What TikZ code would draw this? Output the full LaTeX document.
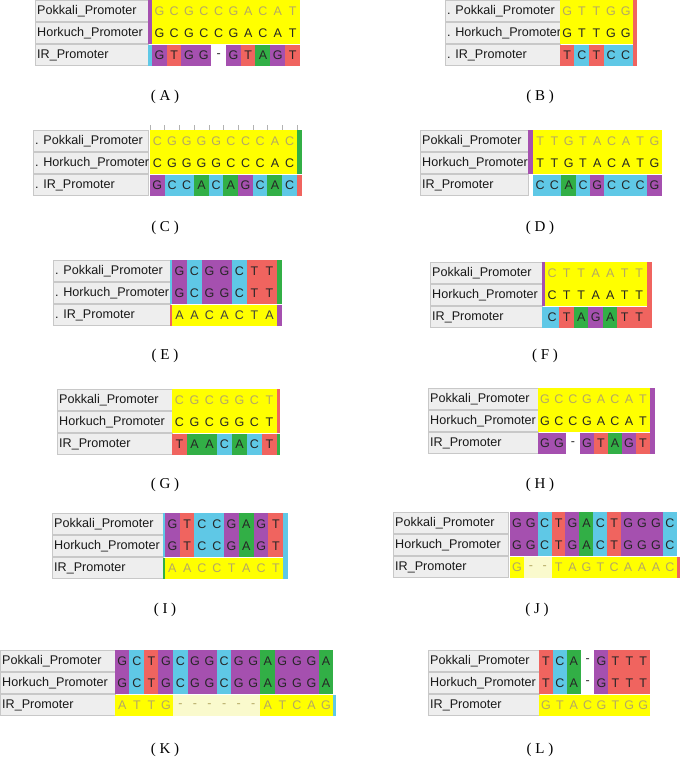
\documentclass[tikz,border=0pt]{standalone}
\usepackage{fontspec}
\setmainfont{Liberation Serif}
\newfontfamily\sansf{Liberation Sans}
\definecolor{cY}{RGB}{255,255,0}
\definecolor{cP}{RGB}{165,80,175}
\definecolor{cB}{RGB}{95,200,230}
\definecolor{cR}{RGB}{240,100,95}
\definecolor{cN}{RGB}{50,175,70}
\definecolor{cW}{RGB}{255,255,255}
\definecolor{cL}{RGB}{250,250,205}
\definecolor{fade}{RGB}{180,168,100}
\definecolor{labfill}{RGB}{238,238,238}
\definecolor{labline}{RGB}{200,200,200}
\tikzset{
  seqcell/.style={inner sep=0pt, outer sep=0pt, font=\sansf\fontsize{12.5}{12.5}\selectfont, anchor=center},
  labbox/.style={fill=labfill, draw=labline, line width=0.5pt, anchor=north west, inner sep=0pt, outer sep=0pt},
  labtext/.style={font=\sansf\fontsize{12.6}{14}\selectfont, text=black!90, anchor=west, inner sep=0pt},
  captext/.style={font=\fontsize{15}{15}\selectfont, inner sep=0pt}
}
\newcommand\seqrow[7]{%
  \foreach \l/\f [count=\i] in {#7}{%
    \node[seqcell, fill=\f, text=#6, minimum width=#4pt+0.4pt, minimum height=#5pt] (#1\i) at ({#2+(\i-0.5)*#4},{#3+#5/2}) {\l};
  }}
\newcommand\labrow[6]{%
  \node[labbox, minimum width=#4pt, minimum height=#5pt] (#1) at ({#2},{#3}) {};
  \node[labtext] (#1t) at ([xshift=2pt]#1.west) {#6};}
\def\pre{}
\def\bcol{black!85}
\newcommand\panel[9]{%
  \labrow{#1-l1}{#2}{#6}{#3}{21.5}{\pre Pokkali\_Promoter}
  \labrow{#1-l2}{#2}{#6+22}{#3}{21.5}{\pre Horkuch\_Promoter}
  \labrow{#1-l3}{#2}{#6+44.5}{#3}{21}{\pre IR\_Promoter}
  \seqrow{#1-a}{#4}{#6}{#5}{22}{#8}{#7}
  \seqrow{#1-b}{#4}{#6+22}{#5}{22}{black!85}{#7}
  \seqrow{#1-c}{#4}{#6+45}{#5}{20.5}{\bcol}{#9}
}
\begin{document}
\begin{tikzpicture}[x=1pt,y=-1pt]
\fill[white] (0,0) rectangle (685,766);
\useasboundingbox (0,0) rectangle (685,766);

% ---------- A ----------
\def\pre{}\def\bcol{black!85}
\panel{A}{35}{113}{152}{14.8}{0}{G/cY,C/cY,G/cY,C/cY,C/cY,G/cY,A/cY,C/cY,A/cY,T/cY}{fade}{G/cP,T/cR,G/cP,G/cP,-/cW,G/cP,T/cR,A/cN,G/cP,T/cR}
\fill[cP] (148,0) rectangle (152,44);
\fill[cB] (148,45) rectangle (152,65.5);
\node[captext] (capA) at (165,97) {( A )};

% ---------- B ----------
\def\pre{. }
\panel{B}{445}{115}{560}{14.6}{0}{G/cY,T/cY,T/cY,G/cY,G/cY}{fade}{T/cR,C/cB,T/cR,C/cB,C/cB}
\fill[cR] (633,0) rectangle (637,65.5);
\node[captext] (capB) at (540,97) {( B )};

% ---------- C ----------
\def\pre{. }
\panel{C}{33}{115}{150}{14.7}{130}{C/cY,G/cY,G/cY,G/cY,G/cY,C/cY,C/cY,C/cY,A/cY,C/cY}{fade}{G/cP,C/cB,C/cB,A/cN,C/cB,A/cN,G/cP,C/cB,A/cN,C/cB}
\fill[cN] (297,130) rectangle (302,174);
\fill[cR] (297,175) rectangle (302,195.5);
\foreach \k in {0,...,10}{\draw[gray!60, line width=0.5pt] ({150+\k*14.7},125) -- ({150+\k*14.7},130);}
\node[captext] (capC) at (165,228) {( C )};

% ---------- D ----------
\def\pre{}
\panel{D}{420}{108}{533}{14.3}{130}{T/cY,T/cY,G/cY,T/cY,A/cY,C/cY,A/cY,T/cY,G/cY}{fade}{C/cB,C/cB,A/cN,C/cB,G/cP,C/cB,C/cB,C/cB,G/cP}
\fill[cP] (528,130) rectangle (533,174);
\node[captext] (capD) at (540,228) {( D )};

% ---------- E ----------
\def\pre{. }\def\bcol{black!75}
\panel{E}{53}{117}{172}{15}{260}{G/cP,C/cB,G/cP,G/cP,C/cB,T/cR,T/cR}{black!85}{A/cY,A/cY,C/cY,A/cY,C/cY,T/cY,A/cY}
\fill[cB] (170,260) rectangle (172,304);
\fill[cR] (170,305) rectangle (172,325.5);
\fill[cN] (277,260) rectangle (282,304);
\fill[cP] (277,305) rectangle (282,325.5);
\node[captext] (capE) at (165,356) {( E )};

% ---------- F ----------
\def\pre{}\def\bcol{black!85}
\panel{F}{430}{112}{545}{14.5}{262}{C/cY,T/cY,T/cY,A/cY,A/cY,T/cY,T/cY}{fade}{C/cB,T/cR,A/cN,G/cP,A/cN,T/cR,T/cR}
\fill[cP] (542,262) rectangle (545,306);
\fill[cB] (542,307) rectangle (545,327.5);
\fill[cR] (646.5,262) rectangle (652,327.5);
\node[captext] (capF) at (545,356) {( F )};

% ---------- G ----------
\panel{G}{57}{115}{172}{15}{389}{C/cY,G/cY,C/cY,G/cY,G/cY,C/cY,T/cY}{fade}{T/cR,A/cN,A/cN,C/cB,A/cN,C/cB,T/cR}
\fill[cR] (277,389) rectangle (280,433);
\fill[cN] (277,434) rectangle (280,454.5);
\node[captext] (capG) at (165,485) {( G )};

% ---------- H ----------
\panel{H}{428}{110}{538}{14}{388}{G/cY,C/cY,C/cY,G/cY,A/cY,C/cY,A/cY,T/cY}{fade}{G/cP,G/cP,-/cW,G/cP,T/cR,A/cN,G/cP,T/cR}
\fill[cP] (650,388) rectangle (655,453.5);
\node[captext] (capH) at (540,485) {( H )};

% ---------- I ----------
\def\bcol{fade}
\panel{I}{52}{111}{165}{14.8}{513}{G/cP,T/cR,C/cB,C/cB,G/cP,A/cN,G/cP,T/cR}{black!85}{A/cY,A/cY,C/cY,C/cY,T/cY,A/cY,C/cY,T/cY}
\fill[cB] (163,513) rectangle (165,557);
\fill[cN] (163,558) rectangle (165,578.5);
\fill[cB] (283.4,513) rectangle (288,578.5);
\node[captext] (capI) at (165,610) {( I )};

% ---------- J ----------
\panel{J}{393}{115}{510}{13.9}{512}{G/cP,G/cP,C/cB,T/cR,G/cP,A/cN,C/cB,T/cR,G/cP,G/cP,G/cP,C/cB}{black!85}{G/cY,-/cL,-/cL,T/cY,A/cY,G/cY,T/cY,C/cY,A/cY,A/cY,A/cY,C/cY}
\fill[cR] (676.8,557) rectangle (680,577.5);
\node[captext] (capJ) at (537,610) {( J )};

% ---------- K ----------
\panel{K}{0}{115}{115}{14.55}{650}{G/cP,C/cB,T/cR,G/cP,C/cB,G/cP,G/cP,C/cB,G/cP,G/cP,A/cN,G/cP,G/cP,G/cP,A/cN}{black!85}{A/cY,T/cY,T/cY,G/cY,-/cL,-/cL,-/cL,-/cL,-/cL,-/cL,A/cY,T/cY,C/cY,A/cY,G/cY}
\fill[cB] (333.3,695) rectangle (335.5,715.5);
\node[captext] (capK) at (165,750) {( K )};

% ---------- L ----------
\panel{L}{428}{111}{539}{13.9}{650}{T/cR,C/cB,A/cN,-/cW,G/cP,T/cR,T/cR,T/cR}{black!85}{G/cY,T/cY,A/cY,C/cY,G/cY,T/cY,G/cY,G/cY}
\node[captext] (capL) at (540,750) {( L )};
\end{tikzpicture}
\end{document}
